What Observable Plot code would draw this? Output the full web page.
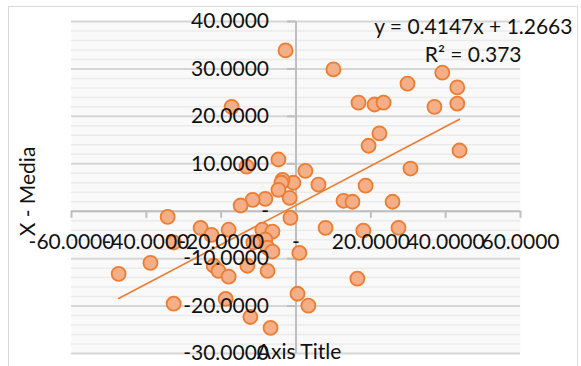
<!DOCTYPE html>
<html>
<head>
<meta charset="utf-8">
<script src="https://cdn.jsdelivr.net/npm/d3@7"></script>
<script src="https://cdn.jsdelivr.net/npm/@observablehq/plot@0.6"></script>
<style>
  html, body { margin: 0; padding: 0; background: #ffffff; }
  #wrap { position: relative; width: 581px; height: 366px; overflow: hidden; }
  #border { position: absolute; left: 8px; top: 6px; width: 568px; height: 420px; border: 1.5px solid #d9d9d9; pointer-events: none; }
</style>
</head>
<body>
<div id="wrap"><div id="border"></div></div>
<script>
// X values (horizontal axis) and "X - Media" values (vertical axis)
const xValues = [-2.8, 10.0, 29.8, 39.1, 43.1, 37.0, 43.1, 43.7, 30.6, 16.7,
  21.0, 23.4, 22.3, 19.4, 2.5, -0.7, 6.0, 18.6, 12.7, 15.1,
  25.8, -1.7, -1.5, 7.9, 18.0, 27.4, 0.9, 0.4, 3.3, 16.4,
  -4.7, -3.6, -3.9, -4.7, -8.2, -11.6, -14.8, -13.2, -18.0, -9.0,
  -6.3, -8.2, -7.6, -6.3, -11.4, -25.5, -22.6, -34.3, -32.7, -38.9,
  -47.4, -32.7, -22.0, -20.7, -18.0, -13.0, -7.6, -18.8, -12.2, -6.8,
  -17.2];
const yValues = [33.9, 29.9, 26.9, 29.2, 26.1, 22.0, 22.7, 12.8, 9.0, 22.9,
  22.5, 22.9, 16.4, 13.8, 8.5, 6.0, 5.6, 5.4, 2.2, 2.0,
  2.0, 2.8, -1.4, -3.5, -4.1, -3.5, -8.8, -17.4, -19.9, -14.2,
  10.9, 6.6, 6.0, 4.5, 2.6, 2.4, 1.2, 9.4, -3.9, -3.9,
  -4.3, -6.0, -7.7, -8.5, -6.6, -3.5, -5.0, -1.2, -6.6, -10.9,
  -13.2, -19.5, -11.5, -12.6, -13.8, -11.5, -12.6, -18.5, -22.3, -24.6,
  22.0];

// Linear trendline coefficients (as shown on the chart)
const slope = 0.4147;
const intercept = 1.2663;
const rSquared = 0.373;

// Tick values
const xTicks = [-60, -40, -20, 0, 20, 40, 60];
const yTicks = [-30, -20, -10, 0, 10, 20, 30, 40];
const yMinorTicks = d3.range(-30, 40.001, 2).filter(v => v % 10 !== 0);

const xTitle = "Axis Title";
const yTitle = "X - Media";
const eqText = "y = " + slope.toFixed(4) + "x + " + intercept.toFixed(4);
const r2Text = "R² = " + rSquared.toFixed(3);

const points = xValues.map((x, i) => ({x, y: yValues[i]}));
const xExt = d3.extent(xValues);
const trend = xExt.map(x => ({x, y: slope * x + intercept}));

const fmt = d => d === 0 ? "-" : d.toFixed(4);

const axisColor = "#bfbfbf";
const chart = Plot.plot({
  width: 581,
  height: 366,
  marginLeft: 71,
  marginRight: 61,
  marginTop: 21,
  marginBottom: 13,
  x: {domain: [-60, 60], axis: null},
  y: {domain: [-30, 40], axis: null},
  style: {fontFamily: "Lato, 'Open Sans', sans-serif", fontSize: "21px", background: "transparent", color: "#111"},
  marks: [
    Plot.frame({fill: "#f9f9f9", stroke: null}),
    Plot.ruleY(yMinorTicks, {stroke: "#ebebeb", strokeWidth: 1.5}),
    Plot.ruleY(yTicks, {stroke: "#d6d6d6", strokeWidth: 2}),
    Plot.ruleY([0], {stroke: axisColor, strokeWidth: 2}),
    Plot.ruleX([0], {stroke: axisColor, strokeWidth: 2}),
    Plot.ruleX(xTicks, {y1: 0, y2: -1.5, stroke: axisColor, strokeWidth: 2}),
    Plot.ruleY(yTicks, {x1: -2.3, x2: 0, stroke: axisColor, strokeWidth: 2}),
    Plot.line(trend, {x: "x", y: "y", stroke: "#ed7d31", strokeWidth: 1.6}),
    Plot.dot(points, {x: "x", y: "y", r: 7, fill: "#f4ae88", stroke: "#ed7d31", strokeWidth: 1.8}),
    Plot.text(yTicks, {x: 0, y: d => d, text: fmt, textAnchor: "end", dx: -27, fill: "#111"}),
    Plot.text(xTicks, {x: d => d, y: 0, text: fmt, dy: 31, fill: "#111"}),
    Plot.text([yTitle], {frameAnchor: "left", text: d => d, rotate: -90, textAnchor: "middle", dx: -43, dy: 4, fill: "#111"}),
    Plot.text([xTitle], {x: 0, y: -30, text: d => d, dx: 3, dy: -1, fill: "#111"}),
    Plot.text([eqText], {x: 60, y: 40, text: d => d, textAnchor: "end", dx: 52, dy: 6, fill: "#111"}),
    Plot.text([r2Text], {x: 60, y: 40, text: d => d, textAnchor: "end", dx: 1, dy: 34, fill: "#111"})
  ]
});
document.getElementById("wrap").prepend(chart);
</script>
</body>
</html>
